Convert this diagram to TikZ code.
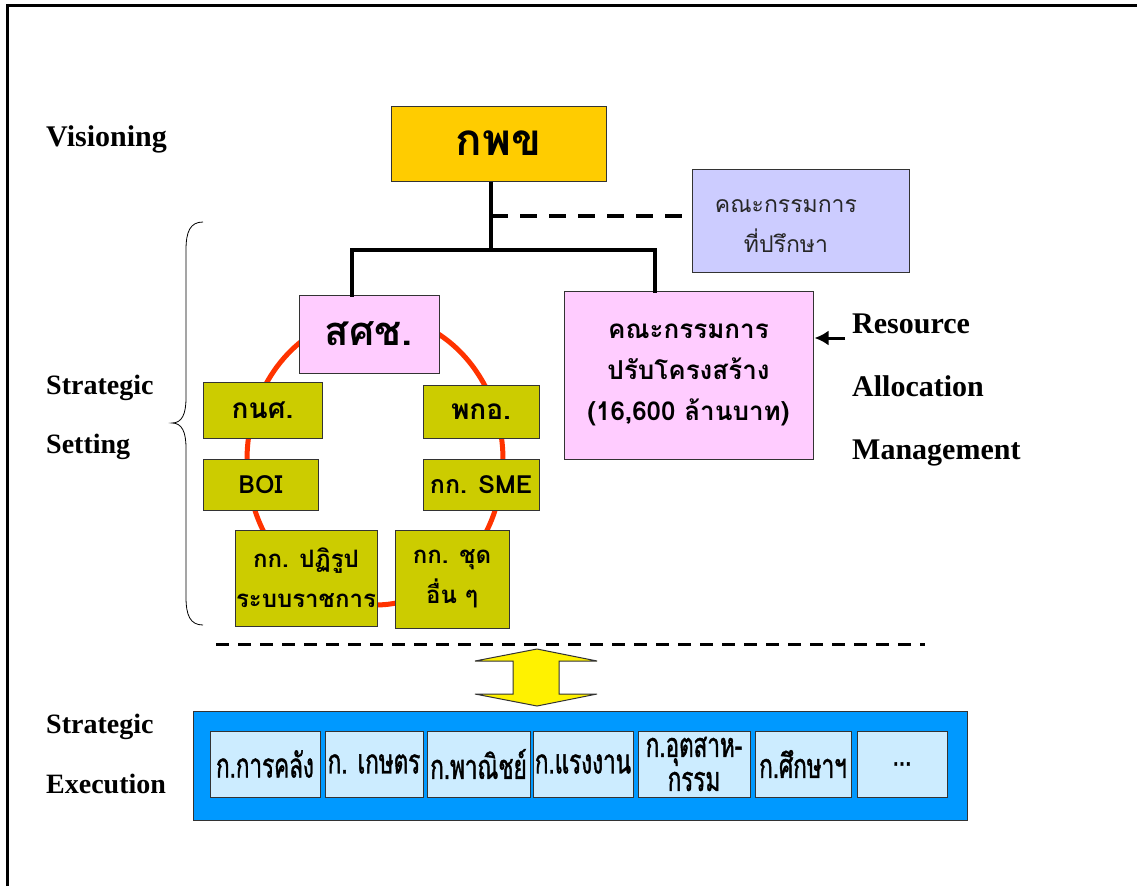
\documentclass[tikz,border=0pt]{standalone}
\usepackage{fontspec}
\setmainfont{Liberation Serif}
\newfontfamily\thai[Script=Thai]{Loma}
\newfontfamily\thaicond[Script=Thai,FakeStretch=0.66,FakeBold=1.2]{Loma}
\usetikzlibrary{arrows.meta}
\definecolor{gold}{HTML}{FFCC00}
\definecolor{lav}{HTML}{CCCCFF}
\definecolor{pinkf}{HTML}{FFCCFF}
\definecolor{olive}{HTML}{CCCC00}
\definecolor{ringred}{HTML}{FF3300}
\definecolor{deptblue}{HTML}{0099FF}
\definecolor{deptlight}{HTML}{CCECFF}
\definecolor{edge}{HTML}{333333}
\begin{document}
\begin{tikzpicture}[x=1pt,y=-1pt,
  box/.style={draw=edge, line width=1pt, inner sep=0pt, align=center},
  goldbox/.style={box, fill=gold},
  lavbox/.style={box, fill=lav},
  pinkbox/.style={box, fill=pinkf},
  olivebox/.style={box, fill=olive},
  deptbox/.style={box, fill=deptlight, font=\thaicond\fontsize{34}{34}\selectfont},
  stage/.style={anchor=base west, inner sep=0pt, font=\bfseries\fontsize{28}{30}\selectfont},
  bigstage/.style={stage, font=\bfseries\fontsize{30}{32}\selectfont},
  conn/.style={line width=4.5pt},
  advdash/.style={line width=4pt, dash pattern=on 17pt off 12pt},
  sepdash/.style={line width=3pt, dash pattern=on 13pt off 9pt},
]
\useasboundingbox (0,0) rectangle (1137,886);
% page frame (top and left edges)
\draw[line width=3pt] (7,886) -- (7,5) -- (1137,5);

% stage labels
\node[bigstage] (vis) at (46,146) {Visioning};
\node[stage] (ss1) at (46,394) {Strategic};
\node[stage] (ss2) at (46,453) {Setting};
\node[stage] (se1) at (46,733) {Strategic};
\node[stage] (se2) at (46,793) {Execution};
\node[bigstage] (ra1) at (852,333) {Resource};
\node[bigstage] (ra2) at (852,396) {Allocation};
\node[bigstage] (ra3) at (852,459) {Management};

% brace grouping the strategic setting bodies
\draw[line width=0.8pt] (203,222) .. controls (190,222) and (186,232) .. (186,250)
  -- (186,398) .. controls (186,414) and (182,423) .. (172,423)
  .. controls (182,423) and (186,432) .. (186,448)
  -- (186,597) .. controls (186,615) and (190,625) .. (203,625);

% top level
\node[goldbox, minimum width=215pt, minimum height=75pt,
  font=\thai\bfseries\fontsize{44}{48}\selectfont] (kpc) at (498.5,143.5) {กพข};
\node[lavbox, minimum width=217pt, minimum height=103pt] (adv) at (800.5,220.5) {};
\node[align=center, inner sep=0pt, text=black!85,
  font=\thai\fontsize{23}{40}\selectfont] (advt) at (786,226)
  {คณะกรรมการ\\ที่ปรึกษา};

% ring linking the strategic bodies
\draw[ringred, line width=5pt] (375,460) ellipse [x radius=128, y radius=145];

% second level
\node[pinkbox, minimum width=140pt, minimum height=78pt,
  font=\thai\bfseries\fontsize{40}{44}\selectfont] (sss) at (369,334) {สศช.};
\node[pinkbox, minimum width=249pt, minimum height=168pt,
  font=\thai\bfseries\fontsize{26}{41}\selectfont] (kpr) at (688.5,375)
  {คณะกรรมการ\\ปรับโครงสร้าง\\(16,600 ล้านบาท)};

% bodies on the ring
\node[olivebox, minimum width=119pt, minimum height=56pt,
  font=\thai\bfseries\fontsize{28}{32}\selectfont] (kns) at (262.5,410) {กนศ.};
\node[olivebox, minimum width=116pt, minimum height=53pt,
  font=\thai\bfseries\fontsize{28}{32}\selectfont] (pko) at (481,411.5) {พกอ.};
\node[olivebox, minimum width=115pt, minimum height=51pt,
  font=\thai\bfseries\fontsize{25}{28}\selectfont] (boi) at (260.5,484.5) {BOI};
\node[olivebox, minimum width=116pt, minimum height=51pt,
  font=\thai\bfseries\fontsize{25}{28}\selectfont] (sme) at (481,484.5) {กก. SME};
\node[olivebox, minimum width=142pt, minimum height=96pt,
  font=\thai\bfseries\fontsize{24}{40}\selectfont] (ptr) at (306,578)
  {กก. ปฏิรูป\\ระบบราชการ};
\node[olivebox, minimum width=114pt, minimum height=98pt,
  font=\thai\bfseries\fontsize{24}{40}\selectfont] (oth) at (452,579)
  {กก. ชุด\\อื่น ๆ};

% organisation lines
\coordinate (junc) at (491,250);
\coordinate (lbr) at (352,250);
\coordinate (rbr) at (655,250);
\coordinate (dj) at (491,216);
\draw[conn] (junc |- kpc.south) -- (junc);
\draw[conn, line cap=rect] (lbr |- sss.north) -- (lbr) -- (rbr) -- (rbr |- kpr.north);
\draw[advdash] (dj) -- ([xshift=-6pt]dj -| adv.west);

% resource allocation input
\coordinate (rtail) at (845,338);
\draw[line width=3pt, -{Latex[length=14pt,width=15pt]}] (rtail) -- ([xshift=1pt]rtail -| kpr.east);

% split between setting and execution
\coordinate (sepl) at (216,644);
\coordinate (sepr) at (925,644);
\draw[sepdash] (sepl) -- (sepr);

% two-way flow
\filldraw[fill=yellow, draw=black!80, line width=1pt]
  (537,649) -- (597,661) -- (559,661) -- (559,694) -- (597,694) -- (537,706)
  -- (475,694) -- (513,694) -- (513,661) -- (475,661) -- cycle;

% ministries
\node[box, fill=deptblue, minimum width=774pt, minimum height=109pt] (min) at (580,765.5) {};
\node[deptbox, minimum width=110pt, minimum height=66pt] (d1) at (265,764) {ก.การคลัง};
\node[deptbox, minimum width=98pt, minimum height=66pt] (d2) at (374,764) {ก. เกษตร};
\node[deptbox, minimum width=103pt, minimum height=66pt] (d3) at (478.5,764) {ก.พาณิชย์};
\node[deptbox, minimum width=100pt, minimum height=66pt] (d4) at (583,764) {ก.แรงงาน};
\node[deptbox, minimum width=112pt, minimum height=66pt] (d5) at (694,764) {ก.อุตสาห-\\กรรม};
\node[deptbox, minimum width=96pt, minimum height=66pt] (d6) at (803,764) {ก.ศึกษาฯ};
\node[deptbox, minimum width=90pt, minimum height=66pt] (d7) at (902,764) {...};
\end{tikzpicture}
\end{document}
